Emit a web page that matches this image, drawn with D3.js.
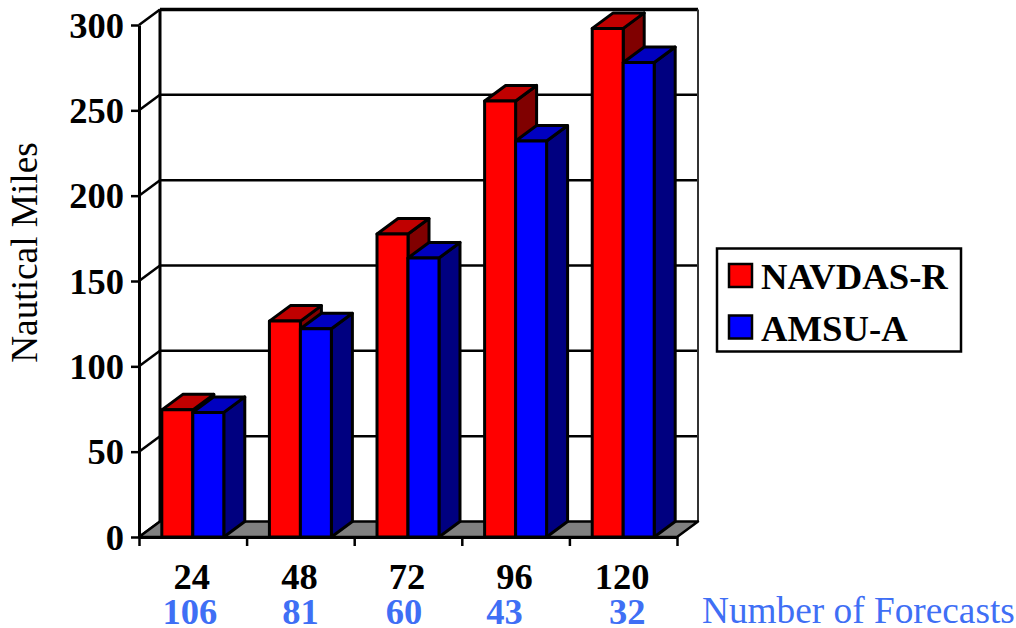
<!DOCTYPE html>
<html>
<head>
<meta charset="utf-8">
<script src="https://cdnjs.cloudflare.com/ajax/libs/d3/7.8.5/d3.min.js"></script>
<style>
  html, body { margin: 0; padding: 0; background: #fff; }
  svg { display: block; }
  text { font-family: "Liberation Serif", "Times New Roman", serif; }
</style>
</head>
<body>
<svg id="chart" width="1016" height="628"></svg>
<script>
const categories = ["24", "48", "72", "96", "120"];
const forecastCounts = ["106", "81", "60", "43", "32"];
const navdasValues = [74.5, 126.5, 177.5, 255.5, 298];
const amsuValues = [73, 122, 163.5, 232, 278];
const yTicks = [0, 50, 100, 150, 200, 250, 300];
const seriesNames = ["NAVDAS-R", "AMSU-A"];
const seriesFront = ["#ff0000", "#0000ff"];
const seriesTop = ["#c00000", "#0000c0"];
const seriesSide = ["#800000", "#000080"];

const svg = d3.select("#chart");
const labelBlue = "#3f6ff5";
const depth = { x: 21, y: -15.5 };
const plotLeft = 139, plotRight = 677, plotBase = 537, plotTop = 25;
// The forecast counts were placed by hand under each group, so each has its own offset
const countOffsets = [-2, 1, -3, -10, 5];

const y = d3.scaleLinear().domain([0, 300]).range([plotBase, plotTop]);
const x = d3.scaleBand().domain(categories).range([plotLeft, plotRight])
  .paddingInner(0.424).paddingOuter(0.212);
const inner = d3.scaleBand().domain(d3.range(seriesNames.length)).range([0, x.bandwidth()]);
const xEdges = d3.scaleLinear().domain([0, categories.length]).range([plotLeft, plotRight]);

// Back wall: gridlines, their slanted returns, and the frame
const wall = svg.append("g").attr("stroke", "#000").attr("fill", "none");
wall.selectAll("line.grid").data(yTicks.filter(v => v > 0)).join("line")
  .attr("class", "grid")
  .attr("x1", plotLeft + depth.x).attr("x2", plotRight + depth.x)
  .attr("y1", v => y(v) + depth.y).attr("y2", v => y(v) + depth.y)
  .attr("stroke-width", v => v === 300 ? 3.5 : 2.5);
wall.selectAll("line.slant").data(yTicks).join("line")
  .attr("class", "slant")
  .attr("x1", plotLeft).attr("x2", plotLeft + depth.x)
  .attr("y1", v => y(v)).attr("y2", v => y(v) + depth.y)
  .attr("stroke-width", 2.5);
wall.append("line").attr("x1", plotLeft + depth.x).attr("x2", plotLeft + depth.x)
  .attr("y1", y(300) + depth.y).attr("y2", y(0) + depth.y).attr("stroke-width", 3);
wall.append("line").attr("x1", plotRight + depth.x).attr("x2", plotRight + depth.x)
  .attr("y1", y(300) + depth.y).attr("y2", y(0) + depth.y).attr("stroke-width", 2).attr("stroke", "#333");

// Floor
svg.append("path")
  .attr("d", d3.line()([
    [plotLeft, plotBase], [plotLeft + depth.x, plotBase + depth.y],
    [plotRight + depth.x, plotBase + depth.y], [plotRight, plotBase]
  ]) + "Z")
  .attr("fill", "#808080").attr("stroke", "#000").attr("stroke-width", 2.5)
  .attr("stroke-linejoin", "round");

// Extruded bars, one group per forecast hour
const rows = categories.flatMap((c, i) => [navdasValues[i], amsuValues[i]].map((v, s) => ({ c, s, v })));
const bars = svg.append("g").attr("stroke", "#000").attr("stroke-width", 3).attr("stroke-linejoin", "round")
  .selectAll("g").data(rows).join("g");
const x0 = d => x(d.c) + inner(d.s);
const x1 = d => x0(d) + inner.bandwidth();
bars.append("path").attr("fill", d => seriesSide[d.s]).attr("d", d => d3.line()([
  [x1(d), y(d.v)], [x1(d) + depth.x, y(d.v) + depth.y],
  [x1(d) + depth.x, plotBase + depth.y], [x1(d), plotBase]
]) + "Z");
bars.append("path").attr("fill", d => seriesTop[d.s]).attr("d", d => d3.line()([
  [x0(d), y(d.v)], [x0(d) + depth.x, y(d.v) + depth.y],
  [x1(d) + depth.x, y(d.v) + depth.y], [x1(d), y(d.v)]
]) + "Z");
bars.append("rect").attr("fill", d => seriesFront[d.s])
  .attr("x", x0).attr("y", d => y(d.v))
  .attr("width", inner.bandwidth()).attr("height", d => plotBase - y(d.v));

// Value axis
const yAxis = svg.append("g").attr("transform", `translate(${plotLeft},0)`)
  .call(d3.axisLeft(y).tickValues(yTicks).tickSize(8).tickPadding(7).tickSizeOuter(0));
yAxis.selectAll("line").attr("stroke", "#000").attr("stroke-width", 2.5);
yAxis.select(".domain").attr("stroke", "#000").attr("stroke-width", 3);
yAxis.selectAll("text").attr("font-size", 36.5).attr("font-weight", "bold").attr("fill", "#000")
  .attr("font-family", '"Liberation Serif", serif').attr("dy", "0.33em");

// Category axis: tick marks sit on group boundaries, labels on group centres
const xAxis = svg.append("g").attr("transform", `translate(0,${plotBase})`)
  .call(d3.axisBottom(xEdges).tickValues(d3.range(categories.length + 1)).tickSize(9).tickFormat("").tickSizeOuter(0));
xAxis.selectAll("line").attr("stroke", "#000").attr("stroke-width", 2.5);
xAxis.select(".domain").attr("stroke", "#000").attr("stroke-width", 3);

const center = c => x(c) + x.bandwidth() / 2 - 1;
svg.append("g").selectAll("text").data(categories).join("text")
  .attr("x", center).attr("y", 589).attr("text-anchor", "middle")
  .attr("font-size", 36.5).attr("font-weight", "bold").attr("fill", "#000").text(d => d);
svg.append("g").selectAll("text").data(forecastCounts).join("text")
  .attr("x", (d, i) => center(categories[i]) + countOffsets[i]).attr("y", 624).attr("text-anchor", "middle")
  .attr("font-size", 36.5).attr("font-weight", "bold").attr("fill", labelBlue).text(d => d);

svg.append("text").attr("x", 702).attr("y", 623).attr("font-size", 37.3).attr("fill", labelBlue)
  .text("Number of Forecasts");
svg.append("text").attr("transform", "translate(37,252.5) rotate(-90)")
  .attr("text-anchor", "middle").attr("font-size", 37.3).attr("fill", "#000").text("Nautical Miles");

// Legend
const legend = svg.append("g");
legend.append("rect").attr("x", 717).attr("y", 248.5).attr("width", 244).attr("height", 103)
  .attr("fill", "#fff").attr("stroke", "#000").attr("stroke-width", 2.5);
const items = legend.selectAll("g").data(seriesNames).join("g")
  .attr("transform", (d, i) => `translate(0,${264 + i * 51.5})`);
items.append("rect").attr("x", 729).attr("width", 23).attr("height", 23)
  .attr("fill", (d, i) => seriesFront[i]).attr("stroke", "#000").attr("stroke-width", 2.5);
items.append("text").attr("x", 761).attr("y", 25).attr("font-size", 36.7).attr("font-weight", "bold")
  .attr("fill", "#000").text(d => d);
</script>
</body>
</html>
